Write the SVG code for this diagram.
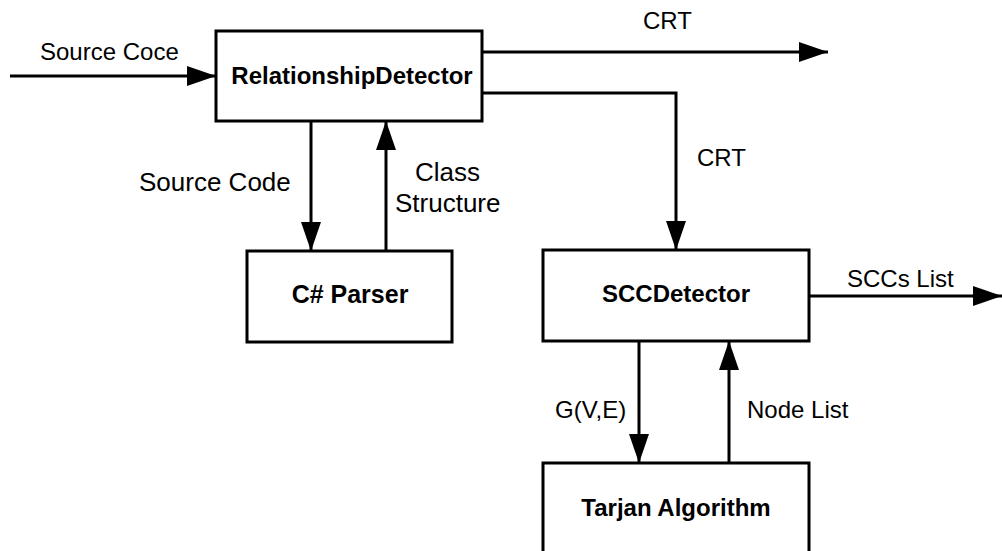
<svg xmlns="http://www.w3.org/2000/svg" width="1002" height="551" viewBox="0 0 1002 551">
<style>
.box{fill:#fff;stroke:#000;stroke-width:3}
.ln{fill:none;stroke:#000;stroke-width:3;marker-end:url(#ah)}
.lbl{font-family:"Liberation Sans",Arial,sans-serif;font-size:24px;fill:#000}
.nm{font-family:"Liberation Sans",Arial,sans-serif;font-size:24px;font-weight:bold;fill:#000;text-anchor:middle}
</style>
<defs>
<marker id="ah" viewBox="0 0 29 20" markerWidth="29" markerHeight="20" refX="29" refY="10" orient="auto" markerUnits="userSpaceOnUse">
<path d="M0,0 L29,10 L0,20 Z" fill="#000"/>
</marker>
</defs>
<rect width="1002" height="551" fill="#fff"/>
<g id="connectors">
<path class="ln" d="M10,76 H216"/>
<path class="ln" d="M482,52 H828"/>
<path class="ln" d="M482,93 H676 V250"/>
<path class="ln" d="M311,121 V251"/>
<path class="ln" d="M386,251 V121"/>
<path class="ln" d="M809,296 H1002"/>
<path class="ln" d="M639,341 V463"/>
<path class="ln" d="M729,463 V341"/>
<text class="lbl" x="40" y="60">Source Coce</text>
<text class="lbl" x="643" y="29">CRT</text>
<text class="lbl" x="697" y="166">CRT</text>
<text class="lbl" x="139" y="191" style="font-size:26px">Source Code</text>
<text class="lbl" x="415" y="181" style="font-size:26px">Class</text>
<text class="lbl" x="395" y="212" style="font-size:26px">Structure</text>
<text class="lbl" x="847" y="287">SCCs List</text>
<text class="lbl" x="555" y="418">G(V,E)</text>
<text class="lbl" x="747" y="418">Node List</text>
</g>
<g id="relationshipDetector">
<rect class="box" x="216" y="31" width="266" height="90"/>
<text class="nm" x="352" y="84">RelationshipDetector</text>
</g>
<g id="csParser">
<rect class="box" x="247" y="251" width="205" height="91"/>
<text class="nm" x="350" y="303" style="font-size:25px">C# Parser</text>
</g>
<g id="sccDetector">
<rect class="box" x="543" y="250" width="266" height="91"/>
<text class="nm" x="676" y="302">SCCDetector</text>
</g>
<g id="tarjan">
<rect class="box" x="543" y="463" width="266" height="100"/>
<text class="nm" x="676" y="516">Tarjan Algorithm</text>
</g>
</svg>
